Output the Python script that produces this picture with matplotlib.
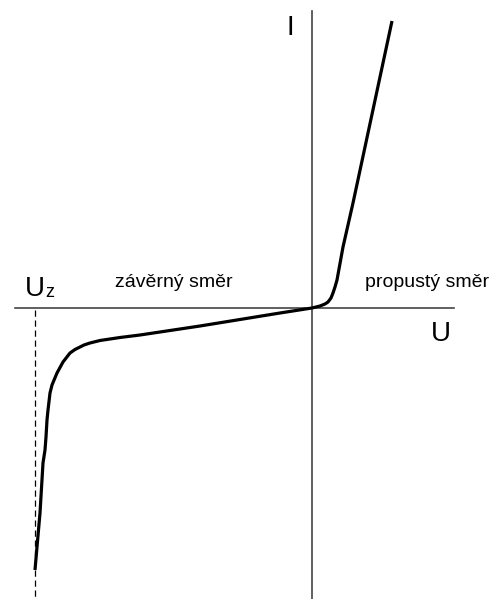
import matplotlib.pyplot as plt
import matplotlib as mpl

# voltage / current in arbitrary units
u_fwd = [0.0, 0.8, 1.3, 1.6, 1.9, 2.1, 2.3, 2.5, 3.1, 4.1, 8.0]
i_fwd = [0.0, 0.2, 0.4, 0.6, 1.0, 1.5, 2.1, 2.8, 6.1, 10.5, 28.7]

u_rev = [0.0, -3.2, -11.2, -17.2, -19.2, -20.2, -21.2, -22.2, -22.8, -23.2,
         -23.7, -24.2, -24.9, -25.5, -26.0, -26.2, -26.4, -26.5, -26.6,
         -26.7, -26.9, -27.2, -27.5, -27.7]
i_rev = [0.0, -0.5, -1.8, -2.7, -2.95, -3.1, -3.25, -3.5, -3.7, -3.9,
         -4.15, -4.5, -5.4, -6.5, -7.7, -8.5, -10.2, -11.2, -12.9,
         -14.2, -15.5, -20.5, -23.9, -26.2]

u_z = -27.7

mpl.rc('font', family=['Liberation Sans', 'DejaVu Sans'])

fig = plt.figure(figsize=(5.02, 5.99), dpi=100)
ax = fig.add_axes([0, 0, 1, 1])
ax.set_xlim(-31.2, 19.0)
ax.set_ylim(-29.1, 30.8)
ax.axis('off')

# axes
ax.plot([-29.7, 14.2], [0, 0], color='#444444', lw=1.2)
ax.plot([0, 0], [-29.1, 29.7], color='#444444', lw=1.2)

# breakdown voltage marker
ax.plot([u_z, u_z], [-0.2, -28.9], color='black', lw=0.9, dashes=(5, 3))

# characteristic
ax.plot(u_fwd, i_fwd, color='black', lw=2.3, solid_capstyle='butt',
        solid_joinstyle='round')
ax.plot(u_rev, i_rev, color='black', lw=2.3, solid_capstyle='butt',
        solid_joinstyle='round')

ax.text(-2.2, 28.0, 'I', fontsize=20, ha='center', va='center')
ax.text(12.9, -2.6, 'U', fontsize=20, ha='center', va='center')
ax.text(-27.7, 1.2, 'U', fontsize=20, ha='center', va='baseline')
ax.text(-26.7, 1.1, 'z', fontsize=13, ha='left', va='baseline')
ax.text(-19.7, 2.1, 'závěrný směr', fontsize=14, ha='left', va='baseline')
ax.text(5.3, 2.1, 'propustý směr', fontsize=14, ha='left', va='baseline')

plt.savefig('out.png', dpi=100)
